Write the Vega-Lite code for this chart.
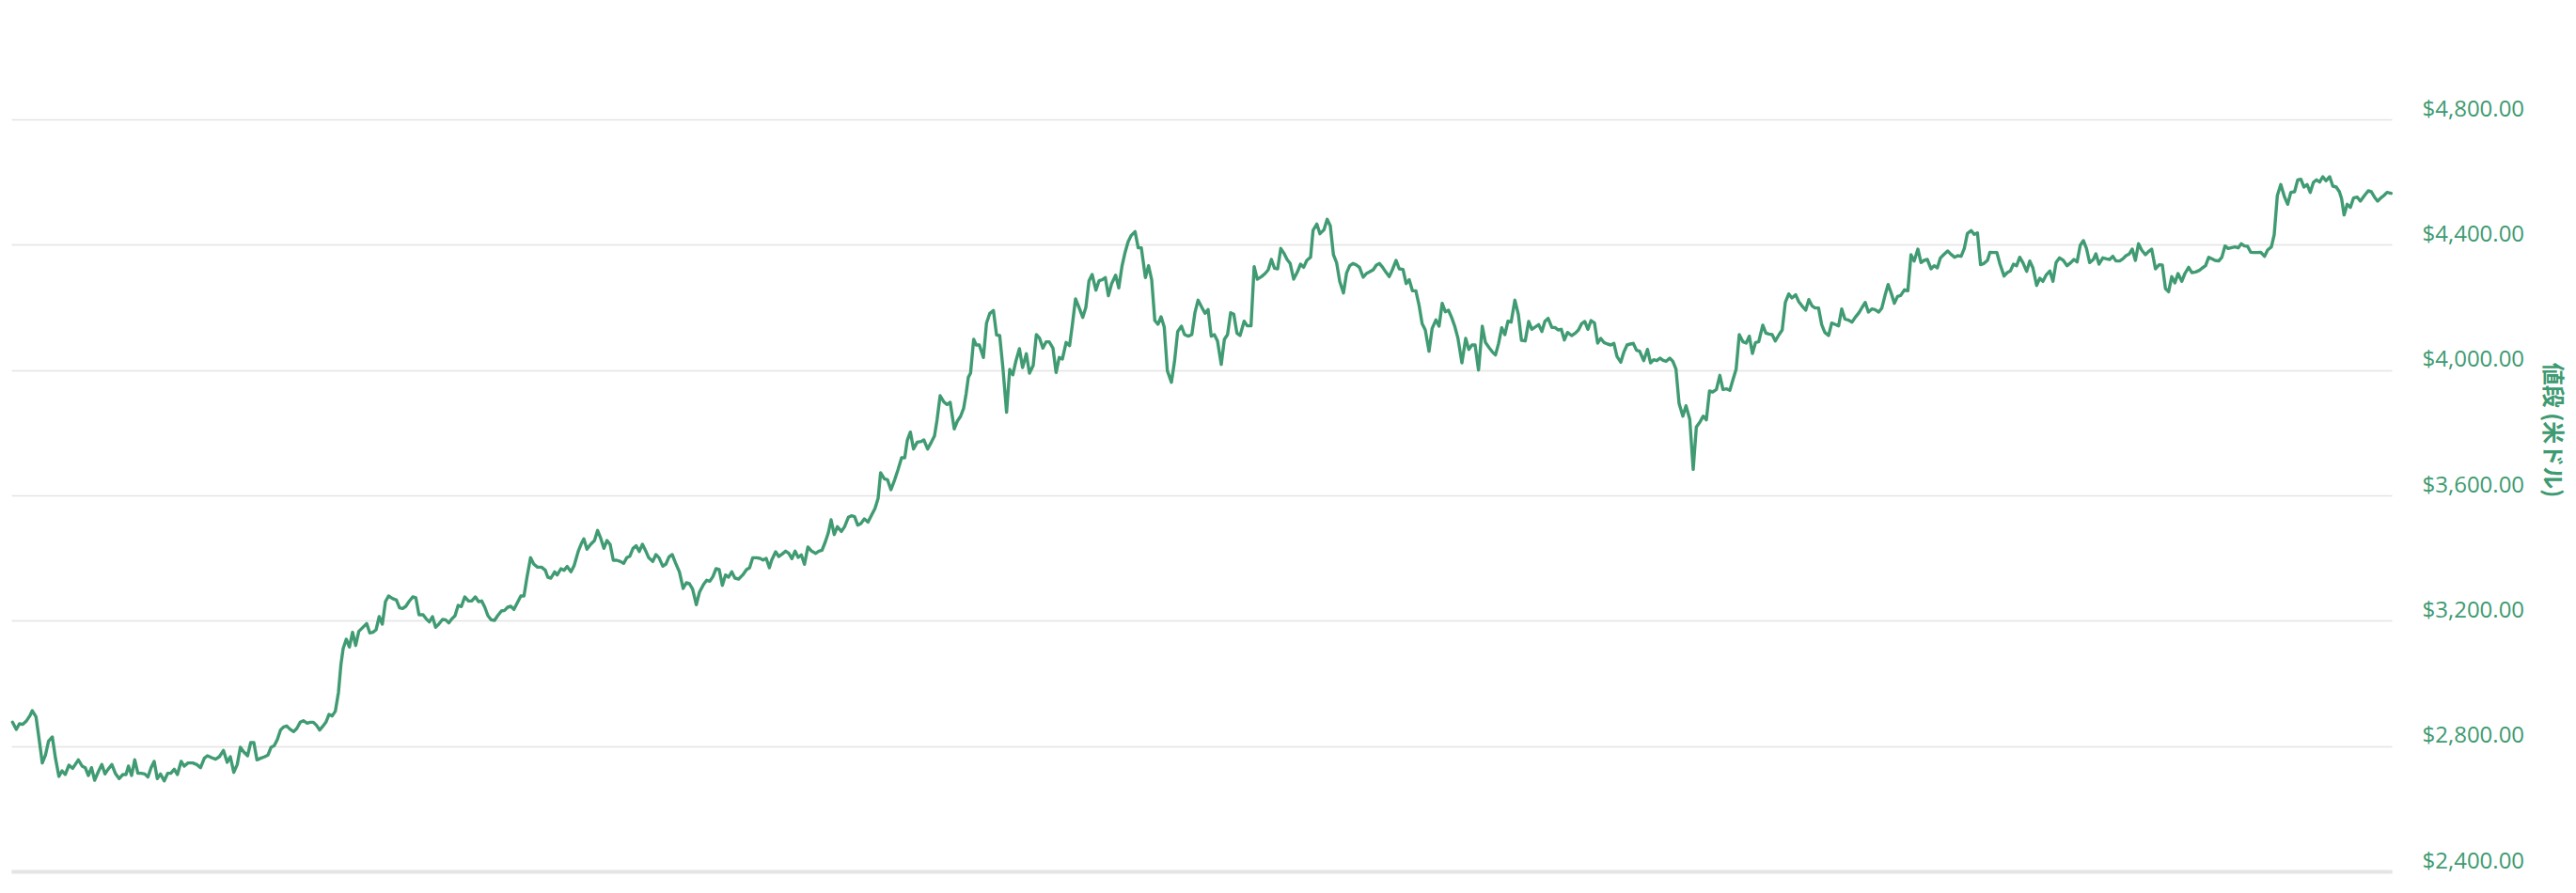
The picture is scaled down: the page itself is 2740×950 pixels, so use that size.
{
  "$schema": "https://vega.github.io/schema/vega-lite/v6.json",
  "width": 2532,
  "height": 800,
  "autosize": {"type": "none"},
  "padding": {"left": 12, "top": 127, "right": 196, "bottom": 23},
  "background": "#ffffff",
  "config": {"view": {"stroke": null}},
  "data": {"values": [
{"t":40,"v":2876},{"t":52,"v":2853},{"t":62,"v":2871},{"t":72,"v":2869},{"t":85,"v":2881},{"t":95,"v":2896},{"t":103,"v":2913},{"t":115,"v":2893},{"t":125,"v":2821},{"t":135,"v":2746},{"t":145,"v":2771},{"t":155,"v":2816},{"t":167,"v":2829},{"t":177,"v":2761},{"t":188,"v":2703},{"t":198,"v":2721},{"t":208,"v":2709},{"t":220,"v":2739},{"t":232,"v":2729},{"t":250,"v":2756},{"t":262,"v":2736},{"t":272,"v":2731},{"t":282,"v":2706},{"t":292,"v":2731},{"t":302,"v":2691},{"t":315,"v":2721},{"t":325,"v":2741},{"t":335,"v":2711},{"t":345,"v":2726},{"t":357,"v":2741},{"t":368,"v":2713},{"t":380,"v":2696},{"t":392,"v":2709},{"t":402,"v":2709},{"t":410,"v":2736},{"t":420,"v":2706},{"t":430,"v":2756},{"t":440,"v":2713},{"t":450,"v":2713},{"t":462,"v":2711},{"t":472,"v":2701},{"t":482,"v":2731},{"t":492,"v":2751},{"t":502,"v":2696},{"t":512,"v":2711},{"t":524,"v":2689},{"t":535,"v":2713},{"t":545,"v":2713},{"t":556,"v":2726},{"t":566,"v":2709},{"t":578,"v":2751},{"t":588,"v":2736},{"t":600,"v":2746},{"t":615,"v":2746},{"t":628,"v":2741},{"t":640,"v":2731},{"t":652,"v":2761},{"t":662,"v":2769},{"t":675,"v":2763},{"t":688,"v":2758},{"t":700,"v":2766},{"t":713,"v":2786},{"t":725,"v":2748},{"t":735,"v":2766},{"t":746,"v":2716},{"t":757,"v":2741},{"t":767,"v":2796},{"t":778,"v":2781},{"t":790,"v":2769},{"t":800,"v":2811},{"t":810,"v":2811},{"t":820,"v":2756},{"t":832,"v":2761},{"t":845,"v":2766},{"t":855,"v":2771},{"t":865,"v":2796},{"t":875,"v":2801},{"t":885,"v":2821},{"t":895,"v":2851},{"t":905,"v":2861},{"t":915,"v":2864},{"t":925,"v":2854},{"t":937,"v":2846},{"t":947,"v":2856},{"t":958,"v":2876},{"t":968,"v":2881},{"t":980,"v":2873},{"t":990,"v":2876},{"t":1000,"v":2876},{"t":1010,"v":2866},{"t":1020,"v":2851},{"t":1030,"v":2863},{"t":1040,"v":2876},{"t":1050,"v":2901},{"t":1060,"v":2896},{"t":1070,"v":2911},{"t":1080,"v":2971},{"t":1088,"v":3061},{"t":1095,"v":3111},{"t":1105,"v":3141},{"t":1115,"v":3116},{"t":1125,"v":3163},{"t":1135,"v":3121},{"t":1145,"v":3166},{"t":1155,"v":3176},{"t":1170,"v":3191},{"t":1180,"v":3161},{"t":1190,"v":3163},
{"t":1200,"v":3171},{"t":1210,"v":3213},{"t":1220,"v":3189},{"t":1230,"v":3261},{"t":1240,"v":3279},{"t":1252,"v":3271},{"t":1265,"v":3266},{"t":1275,"v":3241},{"t":1285,"v":3239},{"t":1295,"v":3246},{"t":1305,"v":3261},{"t":1317,"v":3276},{"t":1327,"v":3273},{"t":1337,"v":3219},{"t":1350,"v":3219},{"t":1360,"v":3206},{"t":1370,"v":3196},{"t":1380,"v":3213},{"t":1390,"v":3179},{"t":1400,"v":3189},{"t":1412,"v":3204},{"t":1422,"v":3203},{"t":1432,"v":3193},{"t":1442,"v":3206},{"t":1452,"v":3216},{"t":1462,"v":3249},{"t":1472,"v":3245},{"t":1483,"v":3276},{"t":1495,"v":3263},{"t":1505,"v":3263},{"t":1517,"v":3276},{"t":1527,"v":3261},{"t":1537,"v":3263},{"t":1547,"v":3243},{"t":1557,"v":3216},{"t":1567,"v":3203},{"t":1578,"v":3201},{"t":1588,"v":3216},{"t":1600,"v":3231},{"t":1610,"v":3233},{"t":1620,"v":3243},{"t":1630,"v":3246},{"t":1640,"v":3236},{"t":1650,"v":3256},{"t":1662,"v":3279},{"t":1672,"v":3279},{"t":1682,"v":3341},{"t":1693,"v":3401},{"t":1703,"v":3381},{"t":1715,"v":3371},{"t":1728,"v":3371},{"t":1740,"v":3361},{"t":1748,"v":3339},{"t":1758,"v":3336},{"t":1770,"v":3356},{"t":1778,"v":3346},{"t":1790,"v":3366},{"t":1800,"v":3361},{"t":1810,"v":3373},{"t":1822,"v":3356},{"t":1832,"v":3376},{"t":1845,"v":3421},{"t":1855,"v":3446},{"t":1863,"v":3461},{"t":1873,"v":3428},{"t":1885,"v":3444},{"t":1897,"v":3456},{"t":1907,"v":3488},{"t":1917,"v":3463},{"t":1927,"v":3431},{"t":1937,"v":3456},{"t":1947,"v":3443},{"t":1957,"v":3393},{"t":1968,"v":3393},{"t":1980,"v":3389},{"t":1990,"v":3383},{"t":2000,"v":3401},{"t":2010,"v":3406},{"t":2020,"v":3431},{"t":2030,"v":3439},{"t":2040,"v":3421},{"t":2050,"v":3444},{"t":2060,"v":3424},{"t":2070,"v":3401},{"t":2083,"v":3389},{"t":2093,"v":3411},{"t":2103,"v":3401},{"t":2115,"v":3374},{"t":2125,"v":3381},{"t":2135,"v":3404},{"t":2145,"v":3411},{"t":2155,"v":3386},{"t":2168,"v":3356},{"t":2180,"v":3303},{"t":2190,"v":3321},{"t":2200,"v":3318},{"t":2210,"v":3301},{"t":2222,"v":3251},{"t":2232,"v":3291},{"t":2245,"v":3316},{"t":2255,"v":3329},{"t":2265,"v":3326},{"t":2275,"v":3341},{"t":2285,"v":3366},{"t":2295,"v":3363},{"t":2305,"v":3313},{"t":2315,"v":3346},{"t":2325,"v":3339},{"t":2335,"v":3356},{"t":2345,"v":3336},{"t":2357,"v":3333},{"t":2370,"v":3346},{"t":2382,"v":3363},{"t":2392,"v":3369},{"t":2402,"v":3401},{"t":2415,"v":3401},{"t":2425,"v":3399},{"t":2435,"v":3394},{"t":2445,"v":3399},{"t":2455,"v":3369},
{"t":2462,"v":3392},{"t":2475,"v":3420},{"t":2485,"v":3405},{"t":2495,"v":3412},{"t":2507,"v":3422},{"t":2517,"v":3415},{"t":2527,"v":3398},{"t":2537,"v":3422},{"t":2547,"v":3402},{"t":2557,"v":3410},{"t":2567,"v":3380},{"t":2578,"v":3435},{"t":2590,"v":3422},{"t":2603,"v":3415},{"t":2613,"v":3422},{"t":2623,"v":3425},{"t":2633,"v":3450},{"t":2643,"v":3480},{"t":2652,"v":3522},{"t":2662,"v":3475},{"t":2672,"v":3500},{"t":2685,"v":3485},{"t":2695,"v":3500},{"t":2707,"v":3530},{"t":2717,"v":3535},{"t":2727,"v":3532},{"t":2737,"v":3505},{"t":2747,"v":3510},{"t":2758,"v":3525},{"t":2770,"v":3515},{"t":2780,"v":3535},{"t":2792,"v":3558},{"t":2802,"v":3590},{"t":2810,"v":3672},{"t":2822,"v":3653},{"t":2832,"v":3650},{"t":2843,"v":3618},{"t":2855,"v":3650},{"t":2865,"v":3680},{"t":2877,"v":3720},{"t":2887,"v":3720},{"t":2895,"v":3775},{"t":2905,"v":3802},{"t":2915,"v":3748},{"t":2927,"v":3770},{"t":2940,"v":3772},{"t":2948,"v":3777},{"t":2960,"v":3748},{"t":2972,"v":3770},{"t":2982,"v":3790},{"t":2990,"v":3840},{"t":3000,"v":3918},{"t":3012,"v":3898},{"t":3022,"v":3890},{"t":3032,"v":3897},{"t":3045,"v":3812},{"t":3055,"v":3837},{"t":3065,"v":3852},{"t":3075,"v":3878},{"t":3083,"v":3925},{"t":3090,"v":3977},{"t":3097,"v":3990},{"t":3107,"v":4098},{"t":3115,"v":4080},{"t":3125,"v":4080},{"t":3138,"v":4040},{"t":3148,"v":4150},{"t":3158,"v":4180},{"t":3170,"v":4190},{"t":3180,"v":4112},{"t":3190,"v":4110},{"t":3200,"v":4010},{"t":3212,"v":3865},{"t":3222,"v":4002},{"t":3232,"v":3985},{"t":3242,"v":4030},{"t":3253,"v":4068},{"t":3263,"v":4008},{"t":3275,"v":4052},{"t":3285,"v":3990},{"t":3297,"v":4015},{"t":3307,"v":4113},{"t":3317,"v":4102},{"t":3328,"v":4070},{"t":3338,"v":4090},{"t":3348,"v":4090},{"t":3360,"v":4070},{"t":3370,"v":3992},{"t":3380,"v":4040},{"t":3390,"v":4035},{"t":3402,"v":4088},{"t":3413,"v":4078},{"t":3422,"v":4145},{"t":3432,"v":4227},{"t":3445,"v":4195},{"t":3455,"v":4168},{"t":3465,"v":4200},{"t":3475,"v":4285},{"t":3485,"v":4305},{"t":3497,"v":4255},{"t":3507,"v":4285},{"t":3517,"v":4288},{"t":3527,"v":4295},{"t":3537,"v":4237},{"t":3547,"v":4275},{"t":3560,"v":4303},{"t":3570,"v":4262},{"t":3580,"v":4330},{"t":3590,"v":4375},{"t":3600,"v":4410},{"t":3610,"v":4430},{"t":3622,"v":4442},{"t":3632,"v":4390},{"t":3642,"v":4390},{"t":3655,"v":4295},
{"t":3665,"v":4333},{"t":3675,"v":4288},{"t":3685,"v":4158},{"t":3695,"v":4146},{"t":3705,"v":4170},{"t":3715,"v":4138},{"t":3725,"v":3998},{"t":3738,"v":3961},{"t":3748,"v":4028},{"t":3758,"v":4123},{"t":3770,"v":4140},{"t":3780,"v":4113},{"t":3792,"v":4108},{"t":3803,"v":4113},{"t":3813,"v":4183},{"t":3823,"v":4223},{"t":3835,"v":4200},{"t":3845,"v":4181},{"t":3855,"v":4193},{"t":3865,"v":4108},{"t":3875,"v":4113},{"t":3885,"v":4093},{"t":3897,"v":4018},{"t":3907,"v":4098},{"t":3917,"v":4113},{"t":3927,"v":4183},{"t":3937,"v":4178},{"t":3947,"v":4118},{"t":3957,"v":4110},{"t":3970,"v":4156},{"t":3980,"v":4141},{"t":3992,"v":4141},{"t":4002,"v":4330},{"t":4012,"v":4290},{"t":4025,"v":4298},{"t":4037,"v":4308},{"t":4047,"v":4320},{"t":4057,"v":4353},{"t":4067,"v":4325},{"t":4077,"v":4323},{"t":4087,"v":4388},{"t":4097,"v":4373},{"t":4107,"v":4353},{"t":4117,"v":4340},{"t":4128,"v":4290},{"t":4140,"v":4313},{"t":4150,"v":4338},{"t":4160,"v":4328},{"t":4170,"v":4350},{"t":4182,"v":4360},{"t":4190,"v":4446},{"t":4202,"v":4466},{"t":4212,"v":4435},{"t":4225,"v":4448},{"t":4235,"v":4481},{"t":4245,"v":4460},{"t":4255,"v":4368},{"t":4265,"v":4343},{"t":4275,"v":4283},{"t":4287,"v":4246},{"t":4297,"v":4310},{"t":4307,"v":4333},{"t":4317,"v":4340},{"t":4327,"v":4336},{"t":4338,"v":4328},{"t":4350,"v":4296},{"t":4360,"v":4308},{"t":4370,"v":4313},{"t":4382,"v":4320},{"t":4392,"v":4335},{"t":4402,"v":4340},{"t":4412,"v":4328},{"t":4422,"v":4313},{"t":4433,"v":4298},{"t":4443,"v":4320},{"t":4455,"v":4350},{"t":4465,"v":4323},{"t":4477,"v":4321},{"t":4487,"v":4276},{"t":4497,"v":4288},{"t":4507,"v":4253},{"t":4518,"v":4253},{"t":4528,"v":4208},{"t":4538,"v":4148},{"t":4548,"v":4128},{"t":4560,"v":4060},{"t":4570,"v":4133},{"t":4582,"v":4160},{"t":4592,"v":4140},{"t":4602,"v":4213},{"t":4612,"v":4186},{"t":4622,"v":4191},{"t":4632,"v":4168},{"t":4642,"v":4140},{"t":4652,"v":4103},{"t":4665,"v":4023},{"t":4677,"v":4101},{"t":4687,"v":4066},{"t":4697,"v":4080},{"t":4707,"v":4080},{"t":4718,"v":4000},{"t":4730,"v":4140},{"t":4740,"v":4088},{"t":4752,"v":4071},{"t":4762,"v":4058},{"t":4772,"v":4048},{"t":4782,"v":4085},{"t":4792,"v":4135},{"t":4802,"v":4113},{"t":4812,"v":4156},{"t":4822,"v":4153},{"t":4834,"v":4223},{"t":4845,"v":4178},{"t":4855,"v":4095},
{"t":4867,"v":4093},{"t":4878,"v":4155},{"t":4888,"v":4130},{"t":4900,"v":4138},{"t":4910,"v":4145},{"t":4920,"v":4123},{"t":4930,"v":4156},{"t":4940,"v":4165},{"t":4952,"v":4136},{"t":4962,"v":4136},{"t":4972,"v":4128},{"t":4982,"v":4130},{"t":4992,"v":4096},{"t":5002,"v":4120},{"t":5015,"v":4110},{"t":5027,"v":4118},{"t":5037,"v":4128},{"t":5047,"v":4148},{"t":5057,"v":4155},{"t":5067,"v":4130},{"t":5077,"v":4158},{"t":5088,"v":4150},{"t":5098,"v":4086},{"t":5108,"v":4101},{"t":5118,"v":4088},{"t":5130,"v":4083},{"t":5140,"v":4080},{"t":5150,"v":4085},{"t":5160,"v":4043},{"t":5172,"v":4025},{"t":5182,"v":4058},{"t":5192,"v":4080},{"t":5202,"v":4083},{"t":5212,"v":4085},{"t":5222,"v":4063},{"t":5232,"v":4060},{"t":5245,"v":4030},{"t":5257,"v":4066},{"t":5267,"v":4023},{"t":5277,"v":4033},{"t":5287,"v":4030},{"t":5297,"v":4038},{"t":5307,"v":4031},{"t":5317,"v":4028},{"t":5328,"v":4038},{"t":5338,"v":4028},{"t":5348,"v":4003},{"t":5358,"v":3893},{"t":5370,"v":3853},{"t":5380,"v":3886},{"t":5392,"v":3843},{"t":5403,"v":3683},{"t":5413,"v":3818},{"t":5425,"v":3835},{"t":5435,"v":3853},{"t":5445,"v":3841},{"t":5455,"v":3933},{"t":5465,"v":3930},{"t":5477,"v":3938},{"t":5488,"v":3983},{"t":5498,"v":3938},{"t":5510,"v":3940},{"t":5520,"v":3935},{"t":5530,"v":3970},{"t":5540,"v":4003},{"t":5550,"v":4113},{"t":5562,"v":4090},{"t":5572,"v":4086},{"t":5582,"v":4108},{"t":5592,"v":4053},{"t":5602,"v":4088},{"t":5612,"v":4090},{"t":5625,"v":4143},{"t":5635,"v":4118},{"t":5645,"v":4115},{"t":5655,"v":4113},{"t":5665,"v":4093},{"t":5677,"v":4113},{"t":5687,"v":4128},{"t":5697,"v":4216},{"t":5708,"v":4243},{"t":5718,"v":4230},{"t":5730,"v":4240},{"t":5740,"v":4218},{"t":5750,"v":4205},{"t":5762,"v":4191},{"t":5772,"v":4225},{"t":5782,"v":4205},{"t":5792,"v":4198},{"t":5803,"v":4198},{"t":5813,"v":4145},{"t":5823,"v":4120},{"t":5835,"v":4110},{"t":5845,"v":4150},{"t":5855,"v":4146},{"t":5867,"v":4141},{"t":5877,"v":4195},{"t":5887,"v":4163},{"t":5897,"v":4160},{"t":5910,"v":4153},{"t":5920,"v":4168},{"t":5932,"v":4183},{"t":5942,"v":4200},{"t":5952,"v":4216},{"t":5962,"v":4185},{"t":5973,"v":4195},{"t":5983,"v":4193},{"t":5995,"v":4185},{"t":6005,"v":4198},{"t":6015,"v":4238},{"t":6025,"v":4273},{"t":6035,"v":4245},{"t":6045,"v":4213},{"t":6055,"v":4235},
{"t":6065,"v":4238},{"t":6077,"v":4256},{"t":6088,"v":4253},{"t":6098,"v":4368},{"t":6108,"v":4348},{"t":6120,"v":4386},{"t":6130,"v":4343},{"t":6140,"v":4350},{"t":6150,"v":4353},{"t":6162,"v":4323},{"t":6172,"v":4333},{"t":6182,"v":4326},{"t":6192,"v":4358},{"t":6202,"v":4368},{"t":6215,"v":4380},{"t":6225,"v":4370},{"t":6237,"v":4360},{"t":6247,"v":4365},{"t":6258,"v":4363},{"t":6268,"v":4388},{"t":6278,"v":4436},{"t":6290,"v":4445},{"t":6300,"v":4433},{"t":6310,"v":4438},{"t":6320,"v":4336},{"t":6330,"v":4340},{"t":6342,"v":4350},{"t":6350,"v":4376},{"t":6360,"v":4375},{"t":6372,"v":4375},{"t":6382,"v":4338},{"t":6395,"v":4300},{"t":6405,"v":4311},{"t":6415,"v":4316},{"t":6425,"v":4338},{"t":6435,"v":4333},{"t":6445,"v":4360},{"t":6455,"v":4343},{"t":6467,"v":4315},{"t":6477,"v":4348},{"t":6487,"v":4326},{"t":6499,"v":4270},{"t":6509,"v":4293},{"t":6519,"v":4283},{"t":6529,"v":4303},{"t":6541,"v":4316},{"t":6551,"v":4283},{"t":6561,"v":4343},{"t":6572,"v":4358},{"t":6584,"v":4350},{"t":6596,"v":4333},{"t":6608,"v":4343},{"t":6618,"v":4353},{"t":6628,"v":4345},{"t":6638,"v":4398},{"t":6648,"v":4413},{"t":6658,"v":4388},{"t":6668,"v":4343},{"t":6680,"v":4353},{"t":6688,"v":4371},{"t":6698,"v":4338},{"t":6710,"v":4358},{"t":6722,"v":4355},{"t":6732,"v":4353},{"t":6742,"v":4363},{"t":6752,"v":4348},{"t":6764,"v":4348},{"t":6774,"v":4355},{"t":6784,"v":4365},{"t":6794,"v":4370},{"t":6804,"v":4386},{"t":6814,"v":4350},{"t":6824,"v":4403},{"t":6834,"v":4383},{"t":6846,"v":4368},{"t":6856,"v":4378},{"t":6866,"v":4386},{"t":6878,"v":4323},{"t":6890,"v":4336},{"t":6900,"v":4335},{"t":6910,"v":4260},{"t":6920,"v":4250},{"t":6930,"v":4298},{"t":6940,"v":4278},{"t":6950,"v":4308},{"t":6962,"v":4283},{"t":6972,"v":4308},{"t":6984,"v":4328},{"t":6994,"v":4311},{"t":7006,"v":4313},{"t":7018,"v":4318},{"t":7028,"v":4326},{"t":7038,"v":4333},{"t":7048,"v":4360},{"t":7058,"v":4355},{"t":7068,"v":4350},{"t":7080,"v":4348},{"t":7090,"v":4360},{"t":7100,"v":4396},{"t":7110,"v":4388},{"t":7122,"v":4391},{"t":7132,"v":4393},{"t":7142,"v":4390},{"t":7152,"v":4403},{"t":7162,"v":4396},{"t":7172,"v":4395},{"t":7182,"v":4376},{"t":7192,"v":4375},{"t":7202,"v":4375},{"t":7214,"v":4376},{"t":7226,"v":4363},{"t":7236,"v":4383},{"t":7248,"v":4393},
{"t":7257,"v":4432},{"t":7267,"v":4557},{"t":7278,"v":4592},{"t":7290,"v":4552},{"t":7300,"v":4529},{"t":7310,"v":4567},{"t":7322,"v":4569},{"t":7332,"v":4607},{"t":7342,"v":4609},{"t":7352,"v":4584},{"t":7362,"v":4592},{"t":7372,"v":4567},{"t":7382,"v":4599},{"t":7392,"v":4607},{"t":7402,"v":4600},{"t":7412,"v":4617},{"t":7422,"v":4604},{"t":7434,"v":4617},{"t":7444,"v":4587},{"t":7455,"v":4584},{"t":7465,"v":4569},{"t":7472,"v":4547},{"t":7480,"v":4495},{"t":7490,"v":4529},{"t":7500,"v":4519},{"t":7510,"v":4549},{"t":7522,"v":4552},{"t":7532,"v":4539},{"t":7545,"v":4557},{"t":7557,"v":4572},{"t":7567,"v":4569},{"t":7577,"v":4552},{"t":7587,"v":4539},{"t":7597,"v":4549},{"t":7607,"v":4557},{"t":7617,"v":4567},{"t":7630,"v":4564}
  ]},
  "mark": {"type": "line", "color": "#409b73", "strokeWidth": 3.4, "strokeJoin": "round", "strokeCap": "round"},
  "encoding": {
    "x": {
      "field": "t", "type": "quantitative",
      "scale": {"domain": [36, 7632], "nice": false, "zero": false},
      "axis": {"title": null, "labels": false, "ticks": false, "grid": false, "domain": true, "domainColor": "#e4e4e4", "domainWidth": 4}
    },
    "y": {
      "field": "v", "type": "quantitative",
      "scale": {"domain": [2400, 4800], "nice": false, "zero": false},
      "axis": {
        "orient": "right",
        "values": [2400, 2800, 3200, 3600, 4000, 4400, 4800],
        "format": "$,.2f",
        "domain": false,
        "ticks": false,
        "tickSize": 0,
        "grid": true,
        "gridColor": "#e4e4e4",
        "gridWidth": 1.5,
        "labelPadding": 32,
        "labelFont": "Open Sans",
        "labelFontSize": 24,
        "labelColor": "#3e9a71",
        "labelBaseline": "alphabetic",
        "labelOffset": -4,
        "labelAlign": "left",
        "title": "値段 (米ドル)",
        "titleFont": "Noto Sans CJK JP",
        "titleFontSize": 24,
        "titleFontWeight": "bold",
        "titleColor": "#3e9a71",
        "titleAngle": 90,
        "titleAlign": "center",
        "titleBaseline": "middle",
        "titleX": 169,
        "titleY": 330
      }
    }
  }
}
